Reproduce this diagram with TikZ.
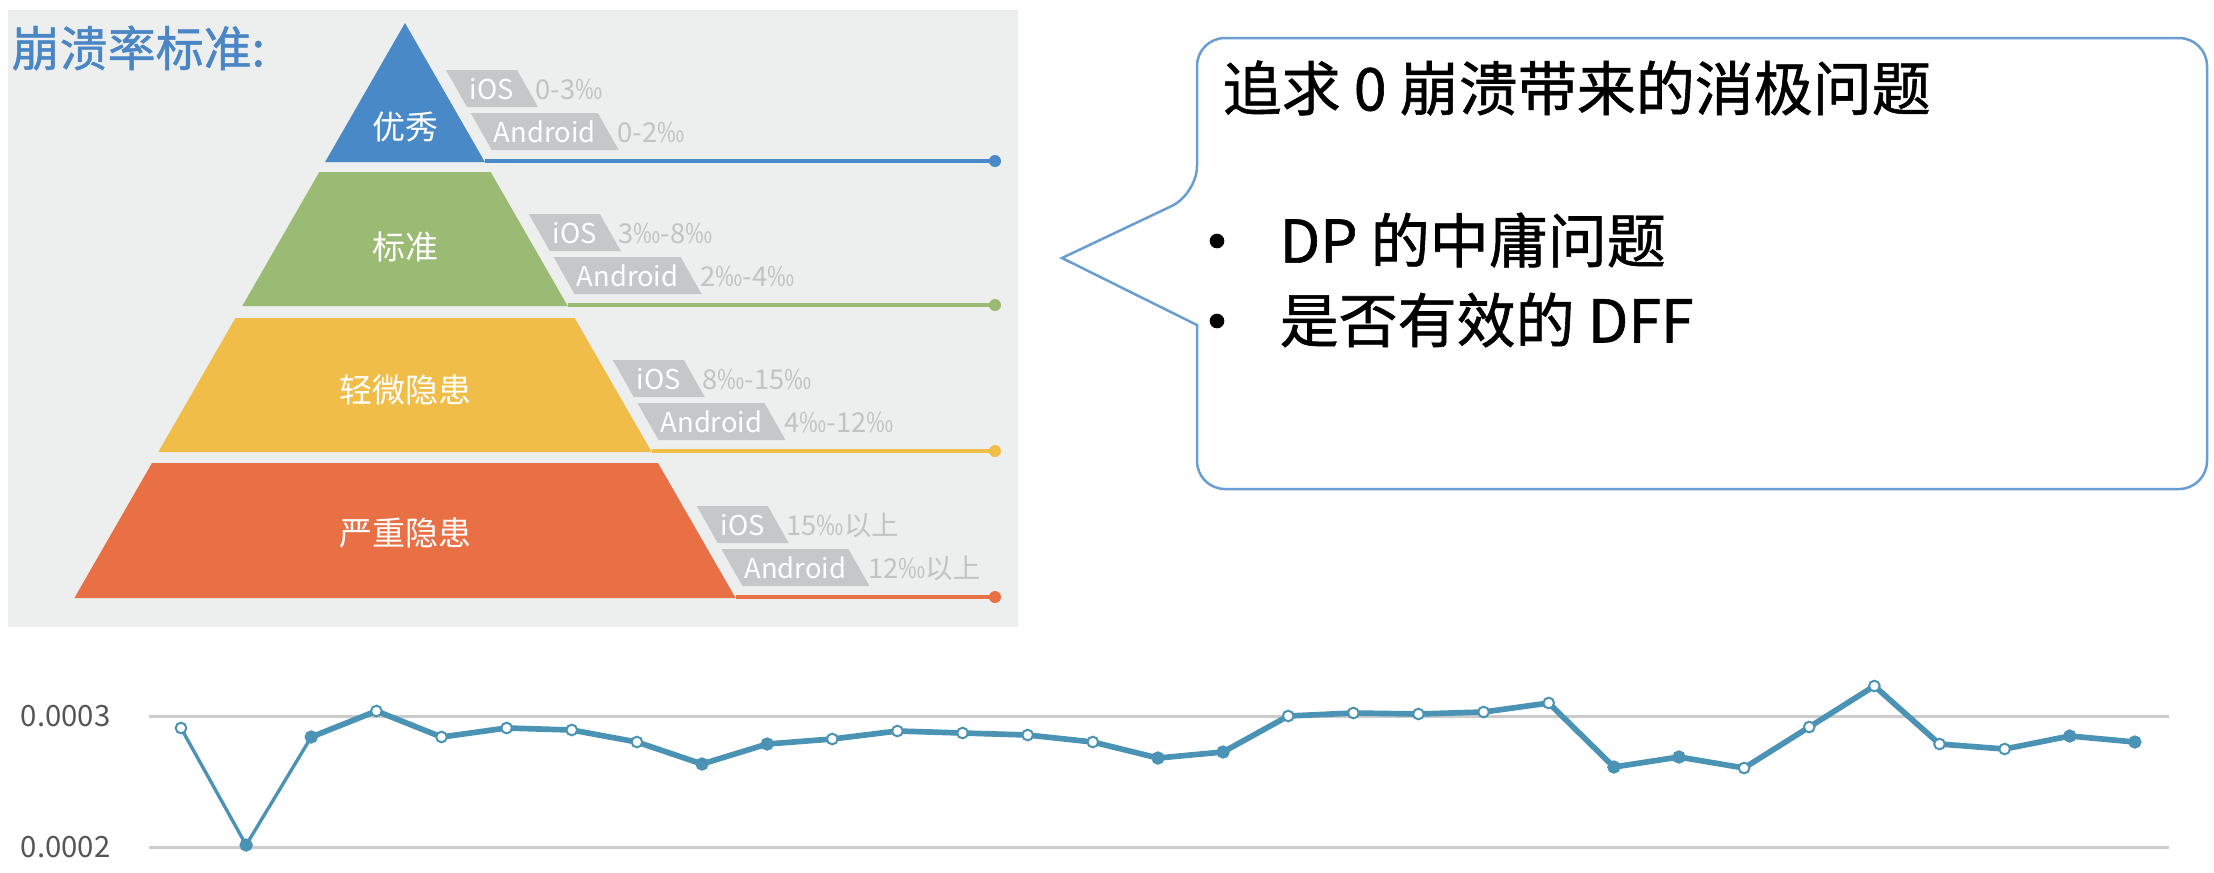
\documentclass[tikz,border=0pt]{standalone}
\usepackage{fontspec}
\setmainfont{Noto Sans CJK SC}
\newfontfamily\boldishfont{Noto Sans CJK SC}[FakeBold=1]
\usetikzlibrary{calc}
\definecolor{panelgray}{HTML}{EDEEEE}
\definecolor{titleblue}{HTML}{4A86C5}
\definecolor{triblue}{HTML}{4A89C8}
\definecolor{trigreen}{HTML}{9BBA74}
\definecolor{triyellow}{HTML}{EFBD48}
\definecolor{trired}{HTML}{E96F45}
\definecolor{taggray}{HTML}{C6C7C9}
\definecolor{valgray}{HTML}{C3C3C3}
\definecolor{callblue}{HTML}{6A9ED2}
\definecolor{chartblue}{HTML}{4B93B4}
\definecolor{gridgray}{HTML}{CCCCCC}
\definecolor{labelgray}{HTML}{555555}
\newcommand\myfs[1]{\fontsize{#1}{#1}\selectfont}
\begin{document}
\begin{tikzpicture}[x=0.3pt,y=-0.3pt,
  lvltxt/.style={text=white,font=\myfs{9.9pt},inner sep=0},
  tagtxt/.style={text=white,font=\myfs{8.2pt},inner sep=0},
  valtxt/.style={text=valgray,font=\myfs{8.2pt},inner sep=0,anchor=west},
  lvlline/.style={line width=1.05pt},
  enddot/.style={circle,inner sep=0,minimum size=3.6pt},
  calltxt/.style={font=\boldishfont\myfs{17.7pt},inner sep=0,anchor=west},
  bulletdot/.style={circle,fill=black,inner sep=0,minimum size=4.4pt},
  gridline/.style={gridgray,line width=0.9pt},
  axlabel/.style={text=labelgray,font=\myfs{8.8pt},inner sep=0,anchor=east},
  chartline/.style={chartblue,line cap=round,line join=round},
  openmk/.style={circle,draw=chartblue,fill=white,line width=0.6pt,inner sep=0,minimum size=3.2pt},
  fullmk/.style={circle,draw=chartblue,fill=chartblue,line width=0.6pt,inner sep=0,minimum size=3.4pt}]
\useasboundingbox (0,0) rectangle (2214,872);
% panel
\fill[panelgray] (8,10) rectangle (1018,627);
\node[text=titleblue,font=\boldishfont\myfs{14.4pt},inner sep=0,anchor=west] (title) at (11,48) {崩溃率标准:};
% pyramid levels
\fill[triblue] (405,23) -- (484.9,162) -- (325.1,162) -- cycle;
\fill[trigreen] (319.3,172) -- (490.7,172) -- (567.7,306) -- (242.3,306) -- cycle;
\fill[triyellow] (235.4,318) -- (574.6,318) -- (651.7,452) -- (158.3,452) -- cycle;
\fill[trired] (152,463) -- (658,463) -- (735.6,598) -- (74.4,598) -- cycle;
\node[lvltxt] (l1) at (405,127) {优秀};
\node[lvltxt] (l2) at (405,247) {标准};
\node[lvltxt] (l3) at (405,390) {轻微隐患};
\node[lvltxt] (l4) at (405,533) {严重隐患};
% level lines
\coordinate (ba) at (484.9,161);
\coordinate (bb) at (567.7,305);
\coordinate (bc) at (651.7,451);
\coordinate (bd) at (735.6,597);
\node[enddot,fill=triblue] (ea) at (995,161) {};
\node[enddot,fill=trigreen] (eb) at (995,305) {};
\node[enddot,fill=triyellow] (ec) at (995,451) {};
\node[enddot,fill=trired] (ed) at (995,597) {};
\draw[lvlline,triblue] (ba) -- (ea.center);
\draw[lvlline,trigreen] (bb) -- (eb.center);
\draw[lvlline,triyellow] (bc) -- (ec.center);
\draw[lvlline,trired] (bd) -- (ed.center);
% tags
\foreach \B/\iv/\av/\n in {162/0-3‰/0-2‰/a,306/3‰-8‰/2‰-4‰/b,452/8‰-15‰/4‰-12‰/c,598/15‰以上/12‰以上/d}{
  \pgfmathsetmacro\yI{\B-92}
  \pgfmathsetmacro\xI{405+0.575*(\yI-23)+14}
  \pgfmathsetmacro\yA{\B-49}
  \pgfmathsetmacro\xA{405+0.575*(\yA-23)+14}
  \fill[taggray] (\xI,\yI) -- ++(71,0) -- ++(21,37) -- ++(-71,0) -- cycle;
  \fill[taggray] (\xA,\yA) -- ++(127,0) -- ++(21,37) -- ++(-127,0) -- cycle;
  \node[tagtxt] (ios\n) at (\xI+46,\yI+19) {iOS};
  \node[tagtxt] (and\n) at (\xA+74,\yA+19) {Android};
  \node[valtxt] (iosv\n) at (\xI+89,\yI+19) {\iv};
  \node[valtxt] (andv\n) at (\xA+146,\yA+19) {\av};
}
% callout
\draw[callblue,line width=0.75pt,fill=white] (1600,489) [rounded corners=8.4pt] -- (2207,489) -- (2207,38) -- (1197,38) -- (1197,194) [sharp corners] -- (1062,258) -- (1197,325) [rounded corners=8.4pt] -- (1197,489) -- cycle;
\node[calltxt] (ct) at (1222,88) {追求 0 崩溃带来的消极问题};
\node[bulletdot] (b1) at (1217,241) {};
\node[calltxt] (t1) at (1279,240) {DP 的中庸问题};
\node[bulletdot] (b2) at (1217,321) {};
\node[calltxt] (t2) at (1279,320) {是否有效的 DFF};
% chart
\coordinate (g3a) at (149,716);
\coordinate (g3b) at (2169,716);
\coordinate (g2a) at (149,847);
\coordinate (g2b) at (2169,847);
\draw[gridline] (g3a) -- (g3b);
\draw[gridline] (g2a) -- (g2b);
\node[axlabel] (y3) at (111,716) {0.0003};
\node[axlabel] (y2) at (111,847) {0.0002};
\foreach \yy [count=\i] in {728,845,737,711,737,728,730,742,764,744,739,731,733,735,742,758,752,716,713,714,712,703,767,757,768,727,686,744,749,736,742}{
  \coordinate (c\i) at ({181+(\i-1)*65.13},\yy);
}
\draw[chartline,line width=1pt] (c1) -- (c2) -- (c3);
\draw[chartline,line width=1.7pt] (c3) \foreach \i in {4,...,31}{ -- (c\i)};
\foreach \i in {1,4,5,6,7,8,11,12,13,14,15,18,19,20,21,22,25,26,27,28,29}{
  \node[openmk] (m\i) at (c\i) {};
}
\foreach \i in {2,3,9,10,16,17,23,24,30,31}{
  \node[fullmk] (m\i) at (c\i) {};
}
\end{tikzpicture}
\end{document}
